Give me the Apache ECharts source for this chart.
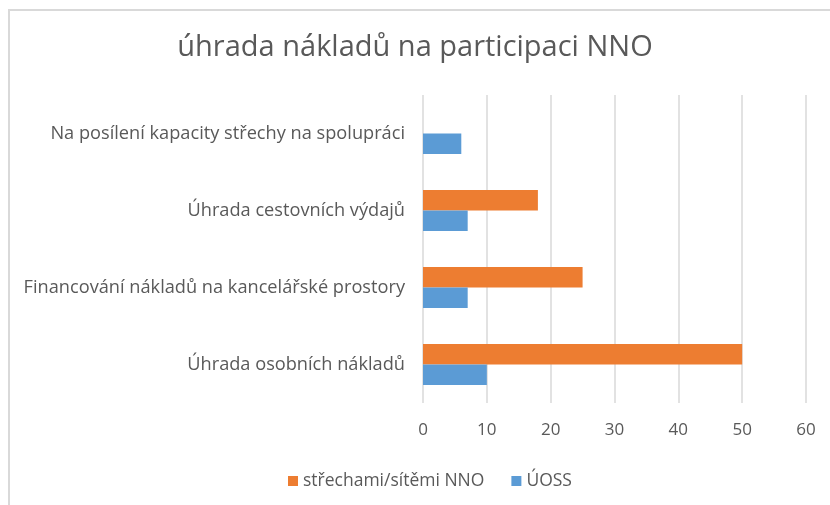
<!DOCTYPE html>
<html>
<head>
<meta charset="utf-8">
<script src="https://cdn.jsdelivr.net/npm/echarts@6/dist/echarts.min.js"></script>
<style>html,body{margin:0;padding:0;background:#fff}#c{width:830px;height:505px}</style>
</head>
<body>
<div id="c"></div>
<script>
const titleText = 'úhrada nákladů na participaci NNO';
const categories = ['Úhrada osobních nákladů', 'Financování nákladů na kancelářské prostory', 'Úhrada cestovních výdajů', 'Na posílení kapacity střechy na spolupráci'];
const seriesNames = ['střechami/sítěmi NNO', 'ÚOSS'];
const valuesNNO = [50, 25, 18, null];
const valuesUOSS = [10, 7, 7, 6];
const xTicks = { min: 0, max: 60, interval: 10 };

const FONT = 'Open Sans';
const TXT = '#595959';
const chart = echarts.init(document.getElementById('c'), null, { renderer: 'canvas' });
chart.setOption({
  animation: false,
  backgroundColor: '#fff',
  title: {
    text: titleText, left: 'center', top: 28,
    textStyle: { fontFamily: FONT, fontSize: 29, fontWeight: 'normal', color: TXT }
  },
  graphic: [{
    type: 'rect', shape: { x: 9, y: 10, width: 900, height: 600 },
    style: { fill: 'none', stroke: '#d9d9d9', lineWidth: 2 }, silent: true
  }],
  legend: {
    data: seriesNames, top: 467, left: 283, itemWidth: 10, itemHeight: 10, itemGap: 27,
    icon: 'rect',
    textStyle: { fontFamily: FONT, fontSize: 17.5, color: TXT }
  },
  grid: { left: 423, right: 24, top: 95, bottom: 102, containLabel: false },
  xAxis: {
    type: 'value', min: xTicks.min, max: xTicks.max, interval: xTicks.interval,
    axisLine: { show: false }, axisTick: { show: false },
    splitLine: { show: true, lineStyle: { color: '#d9d9d9', width: 1.5 } },
    axisLabel: { fontFamily: FONT, fontSize: 17, color: TXT, margin: 19 }
  },
  yAxis: {
    type: 'category', data: categories,
    axisLine: { show: false }, axisTick: { show: false },
    axisLabel: { fontFamily: FONT, fontSize: 18.2, color: TXT, margin: 18 }
  },
  series: [
    { name: seriesNames[0], type: 'bar', data: valuesNNO, itemStyle: { color: '#ed7d31' }, barGap: '0%', barCategoryGap: '47%' },
    { name: seriesNames[1], type: 'bar', data: valuesUOSS, itemStyle: { color: '#5b9bd5' }, barGap: '0%', barCategoryGap: '47%' }
  ]
});
</script>
</body>
</html>
